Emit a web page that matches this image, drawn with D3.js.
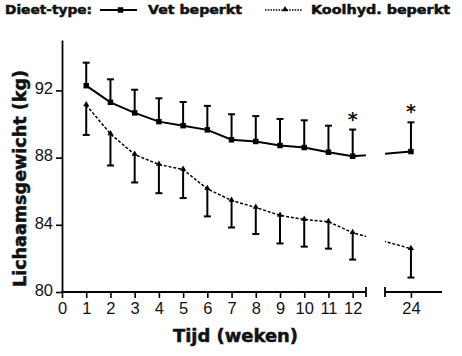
<!DOCTYPE html>
<html><head><meta charset="utf-8">
<script src="https://cdn.jsdelivr.net/npm/d3@7"></script>
<style>body{margin:0;background:#fff}svg{display:block}</style>
</head><body><svg id="c" width="462" height="356"></svg>
<script>
const weeks = [1,2,3,4,5,6,7,8,9,10,11,12,24];
const vetMean = [92.28,91.29,90.66,90.14,89.90,89.65,89.06,88.96,88.72,88.60,88.32,88.08,88.36];
const vetErr  = [1.37,1.37,1.38,1.39,1.41,1.43,1.52,1.51,1.58,1.62,1.58,1.59,1.74];
const khMean  = [91.13,89.41,88.18,87.59,87.29,86.14,85.45,85.03,84.56,84.32,84.18,83.53,82.58];
const khErr   = [1.78,1.88,1.66,1.71,1.70,1.64,1.61,1.58,1.67,1.62,1.60,1.60,1.72];
const signif  = [12,24];
const xTicks = [0,1,2,3,4,5,6,7,8,9,10,11,12,24];
const yTicks = [80,84,88,92];
const seriesNames = ["Vet beperkt","Koolhyd. beperkt"];
const legendTitle = "Dieet-type:";
const xTitle = "Tijd (weken)";
const yTitle = "Lichaamsgewicht (kg)";

const svg = d3.select("#c");
const BOLD = "'DejaVu Sans', Verdana, sans-serif";
const REG = "'Liberation Sans', Arial, sans-serif";

// broken x-axis: segment 1 [0,12.55], segment 2 [22.93,25.28]
const x = d3.scaleLinear().domain([0,12.55,22.93,25.28]).range([62,366,385,442]);
const y = d3.scaleLinear().domain([80,95]).range([292,40]);

// Axes
const gx = svg.append("g").attr("transform","translate(0,292)")
  .call(d3.axisBottom(x).tickValues(xTicks).tickSize(6).tickSizeOuter(0).tickPadding(4));
gx.select(".domain").remove();
gx.selectAll("line").attr("stroke","#000").attr("stroke-width",1.6);
gx.selectAll("text").attr("font-family",REG).attr("font-size",16.5).attr("fill","#111").attr("dy","0.74em");
// domain segments
[[0,12.55],[22.93,25.28]].forEach(s=>{
  svg.append("line").attr("x1",x(s[0])-0.5).attr("x2",x(s[1])).attr("y1",292).attr("y2",292)
    .attr("stroke","#000").attr("stroke-width",1.8);
});
// caps at break
[12.55,22.93].forEach(v=>{
  svg.append("line").attr("x1",x(v)).attr("x2",x(v)).attr("y1",287).attr("y2",297)
    .attr("stroke","#000").attr("stroke-width",1.8);
});

const gy = svg.append("g").attr("transform","translate(62,0)")
  .call(d3.axisLeft(y).tickValues(yTicks).tickSize(6).tickSizeOuter(0).tickPadding(3));
gy.select(".domain").attr("stroke","#000").attr("stroke-width",1.8);
gy.selectAll("line").attr("stroke","#000").attr("stroke-width",1.6);
gy.selectAll("text").attr("font-family",REG).attr("font-size",16.5).attr("fill","#111").attr("dy","0.2em");

// clips for broken lines
const defs = svg.append("defs");
defs.append("clipPath").attr("id","clip1").append("rect").attr("x",0).attr("y",0).attr("width",x(12.55)).attr("height",356);
defs.append("clipPath").attr("id","clip2").append("rect").attr("x",x(22.93)).attr("y",0).attr("width",100).attr("height",356);

const line = d3.line().x(d=>x(d[0])).y(d=>y(d[1]));
const vetPts = weeks.map((w,i)=>[w,vetMean[i]]);
const khPts = weeks.map((w,i)=>[w,khMean[i]]);

["clip1","clip2"].forEach(c=>{
  svg.append("path").attr("d",line(vetPts)).attr("clip-path",`url(#${c})`)
    .attr("fill","none").attr("stroke","#000").attr("stroke-width",2);
  svg.append("path").attr("d",line(khPts)).attr("clip-path",`url(#${c})`)
    .attr("fill","none").attr("stroke","#000").attr("stroke-width",1.5).attr("stroke-dasharray","3,1.8");
});

// error bars
function errBars(mean, err, dir){
  const g = svg.append("g").attr("stroke","#000").attr("stroke-width",2);
  weeks.forEach((w,i)=>{
    const xv = x(w), y0 = y(mean[i]), y1 = y(mean[i] + dir*err[i]);
    g.append("line").attr("x1",xv).attr("x2",xv).attr("y1",y0).attr("y2",y1);
    g.append("line").attr("x1",xv-3.5).attr("x2",xv+3.5).attr("y1",y1).attr("y2",y1);
  });
}
errBars(vetMean, vetErr, 1);
errBars(khMean, khErr, -1);

// markers
const sq = d3.symbol().type(d3.symbolSquare).size(30);
const tri = d3.symbol().type(d3.symbolTriangle).size(16);
svg.append("g").selectAll("path").data(vetPts).join("path")
  .attr("d",sq).attr("transform",d=>`translate(${x(d[0])},${y(d[1])})`).attr("fill","#000");
svg.append("g").selectAll("path").data(khPts).join("path")
  .attr("d",tri).attr("transform",d=>`translate(${x(d[0])},${y(d[1])-0.5})`).attr("fill","#000");

// significance stars
signif.forEach(w=>{
  const i = weeks.indexOf(w);
  svg.append("text").attr("x",x(w)).attr("y",y(vetMean[i]+vetErr[i])-4)
    .attr("text-anchor","middle").attr("font-family",BOLD).attr("font-weight","bold")
    .attr("font-size",19).attr("fill","#111").text("*");
});

// heavier bold text helper
function heavy(sel){ return sel.attr("font-family",BOLD).attr("font-weight","bold").attr("fill","#111")
  .attr("stroke","#111").attr("stroke-width",0.5).attr("lengthAdjust","spacingAndGlyphs"); }

// axis titles
heavy(svg.append("text").attr("x",235.5).attr("y",342).attr("text-anchor","middle").attr("font-size",17.5)
  .attr("textLength",125)).text(xTitle);
heavy(svg.append("text").attr("transform","translate(25.5,178.5) rotate(-90)").attr("text-anchor","middle")
  .attr("font-size",17.5).attr("textLength",217)).text(yTitle);

// legend
heavy(svg.append("text").attr("x",5).attr("y",14).attr("font-size",12.5).attr("textLength",87)).text(legendTitle);
svg.append("line").attr("x1",100).attr("x2",137).attr("y1",10).attr("y2",10).attr("stroke","#000").attr("stroke-width",2);
svg.append("path").attr("d",sq).attr("transform","translate(120.5,10)").attr("fill","#000");
heavy(svg.append("text").attr("x",148).attr("y",14).attr("font-size",12.5).attr("textLength",94)).text(seriesNames[0]);
svg.append("line").attr("x1",265).attr("x2",302).attr("y1",10).attr("y2",10).attr("stroke","#000").attr("stroke-width",1.3).attr("stroke-dasharray","1.5,1.2");
svg.append("path").attr("d",tri).attr("transform","translate(285,9.5)").attr("fill","#000");
heavy(svg.append("text").attr("x",311).attr("y",14).attr("font-size",12.5).attr("textLength",139)).text(seriesNames[1]);
</script></body></html>
